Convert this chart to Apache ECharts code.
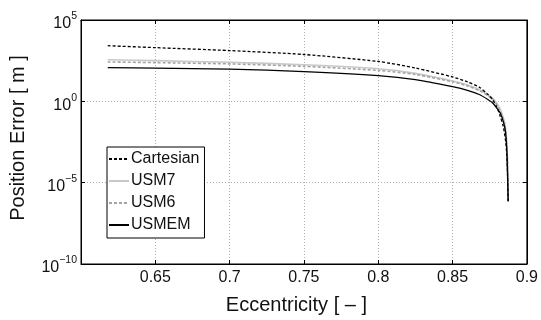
<!DOCTYPE html>
<html>
<head>
<meta charset="utf-8">
<script src="https://cdn.jsdelivr.net/npm/echarts@6/dist/echarts.min.js"></script>
<style>
  html, body { margin: 0; padding: 0; background: #fff; }
  #chart { width: 541px; height: 320px; }
</style>
</head>
<body>
<div id="chart"></div>
<script>
// Eccentricity samples, shared by the Cartesian and USMEM curves
const eccA = [0.618, 0.65, 0.70, 0.75, 0.80, 0.825, 0.85, 0.86, 0.868, 0.874, 0.877, 0.880, 0.882, 0.884, 0.8855, 0.8865, 0.887, 0.8874];
// Eccentricity samples, shared by the USM7 and USM6 curves
const eccB = [0.618, 0.65, 0.70, 0.75, 0.80, 0.825, 0.85, 0.86, 0.868, 0.874, 0.878, 0.881, 0.883, 0.885, 0.886, 0.8867, 0.8872, 0.8874];

// Position error [m]
const cartesian = [2630, 2000, 1320, 759, 282, 112, 31.6, 15.8, 7.41, 2.51, 1.26, 0.398, 0.126, 0.0316, 5.0e-3, 5.0e-4, 3.16e-5, 7.1e-7];
const usm7      = [363, 316, 251, 178, 100, 52.5, 17.8, 10.0, 5.25, 2.51, 1.26, 0.501, 0.200, 0.050, 0.010, 1.0e-3, 3.16e-5, 7.1e-7];
const usm6      = [263, 240, 200, 141, 79.4, 44.7, 15.8, 8.91, 4.57, 2.14, 1.05, 0.398, 0.158, 0.0398, 7.94e-3, 7.94e-4, 3.16e-5, 7.1e-7];
const usmem     = [117, 110, 95.5, 67.6, 38.0, 21.4, 7.94, 4.79, 2.63, 1.26, 0.794, 0.355, 0.200, 0.063, 0.0158, 1.0e-3, 2.5e-5, 7.1e-7];

const seriesNames = ['Cartesian', 'USM7', 'USM6', 'USMEM'];

const FONT = "'Liberation Sans', Arial, Helvetica, sans-serif";
const pair = (xs, ys) => xs.map((x, i) => [x, ys[i]]);

function expLabel(v) {
  const e = Math.round(Math.log10(v));
  const s = e < 0 ? '\u2212' + Math.abs(e) : String(e);
  return '{b|10}{e|' + s + '}';
}

const chart = echarts.init(document.getElementById('chart'), null, { renderer: 'canvas' });

const tickInside = { show: true, inside: true, length: 4, lineStyle: { color: '#000', width: 1 } };

chart.setOption({
  animation: false,
  backgroundColor: '#fff',
  textStyle: { fontFamily: FONT, color: '#111' },
  grid: { left: 81, right: 14, top: 20, bottom: 56, show: true, borderColor: '#000', borderWidth: 1, backgroundColor: 'transparent' },
  legend: {
    orient: 'vertical',
    left: 107,
    top: 147,
    backgroundColor: '#fff',
    borderColor: '#000',
    borderWidth: 1,
    borderRadius: 0,
    padding: [4, 5, 5, 1],
    itemWidth: 20,
    itemHeight: 14,
    itemGap: 6,
    itemStyle: { opacity: 0, borderWidth: 0 },
    textStyle: { fontFamily: FONT, fontSize: 16, color: '#111', padding: [0, 0, 0, -3] },
    data: seriesNames
  },
  xAxis: [{
    type: 'value',
    min: 0.6,
    max: 0.9,
    interval: 0.05,
    name: 'Eccentricity [ \u2013 ]',
    nameLocation: 'middle',
    nameGap: 31,
    nameTextStyle: { fontFamily: FONT, fontSize: 20, color: '#111', padding: [0, 15, 0, 0] },
    axisLine: { show: true, lineStyle: { color: '#000', width: 1 } },
    axisTick: tickInside,
    axisLabel: {
      fontFamily: FONT, fontSize: 16, color: '#111', margin: 6,
      formatter: v => (Math.abs(v - 0.6) < 1e-9 ? '' : String(+v.toFixed(2)))
    },
    splitLine: { show: true, lineStyle: { color: '#b0b0b0', width: 1, type: [1, 2] } }
  }, {
    type: 'value',
    position: 'top',
    min: 0.6,
    max: 0.9,
    interval: 0.05,
    axisLine: { show: true, lineStyle: { color: '#000', width: 1 } },
    axisTick: tickInside,
    axisLabel: { show: false },
    splitLine: { show: false }
  }],
  yAxis: [{
    type: 'log',
    logBase: 10,
    min: 1e-10,
    max: 1e5,
    interval: 5,
    name: 'Position Error [ m ]',
    nameLocation: 'middle',
    nameGap: 53,
    nameTextStyle: { fontFamily: FONT, fontSize: 20, color: '#111', padding: [0, 0, 0, 8] },
    axisLine: { show: true, lineStyle: { color: '#000', width: 1 } },
    axisTick: tickInside,
    axisLabel: {
      margin: 4,
      formatter: expLabel,
      rich: {
        b: { fontFamily: FONT, fontSize: 16, color: '#111', padding: [8, 0, 0, 0] },
        e: { fontFamily: FONT, fontSize: 10.5, color: '#111', padding: [0, 0, 7, 0] }
      }
    },
    splitLine: { show: true, lineStyle: { color: '#b0b0b0', width: 1, type: [1, 2] } }
  }, {
    type: 'log',
    logBase: 10,
    position: 'right',
    min: 1e-10,
    max: 1e5,
    interval: 5,
    axisLine: { show: true, lineStyle: { color: '#000', width: 1 } },
    axisTick: tickInside,
    axisLabel: { show: false },
    splitLine: { show: false }
  }],
  series: [{
    name: 'USM7',
    type: 'line',
    data: pair(eccB, usm7),
    showSymbol: false, symbol: 'none',
    smooth: 0.25,
    lineStyle: { color: '#c8c8c8', width: 1.6 },
    itemStyle: { color: '#c8c8c8' },
    z: 2
  }, {
    name: 'USM6',
    type: 'line',
    data: pair(eccB, usm6),
    showSymbol: false, symbol: 'none',
    smooth: 0.25,
    lineStyle: { color: '#a4a4a4', width: 1.6, type: [3, 2] },
    itemStyle: { color: '#a4a4a4' },
    z: 3
  }, {
    name: 'USMEM',
    type: 'line',
    data: pair(eccA, usmem),
    showSymbol: false, symbol: 'none',
    smooth: 0.25,
    lineStyle: { color: '#000', width: 1.3 },
    itemStyle: { color: '#000' },
    z: 4
  }, {
    name: 'Cartesian',
    type: 'line',
    data: pair(eccA, cartesian),
    showSymbol: false, symbol: 'none',
    smooth: 0.25,
    lineStyle: { color: '#000', width: 1.3, type: [3, 2] },
    itemStyle: { color: '#000' },
    z: 5
  }]
});
</script>
</body>
</html>
